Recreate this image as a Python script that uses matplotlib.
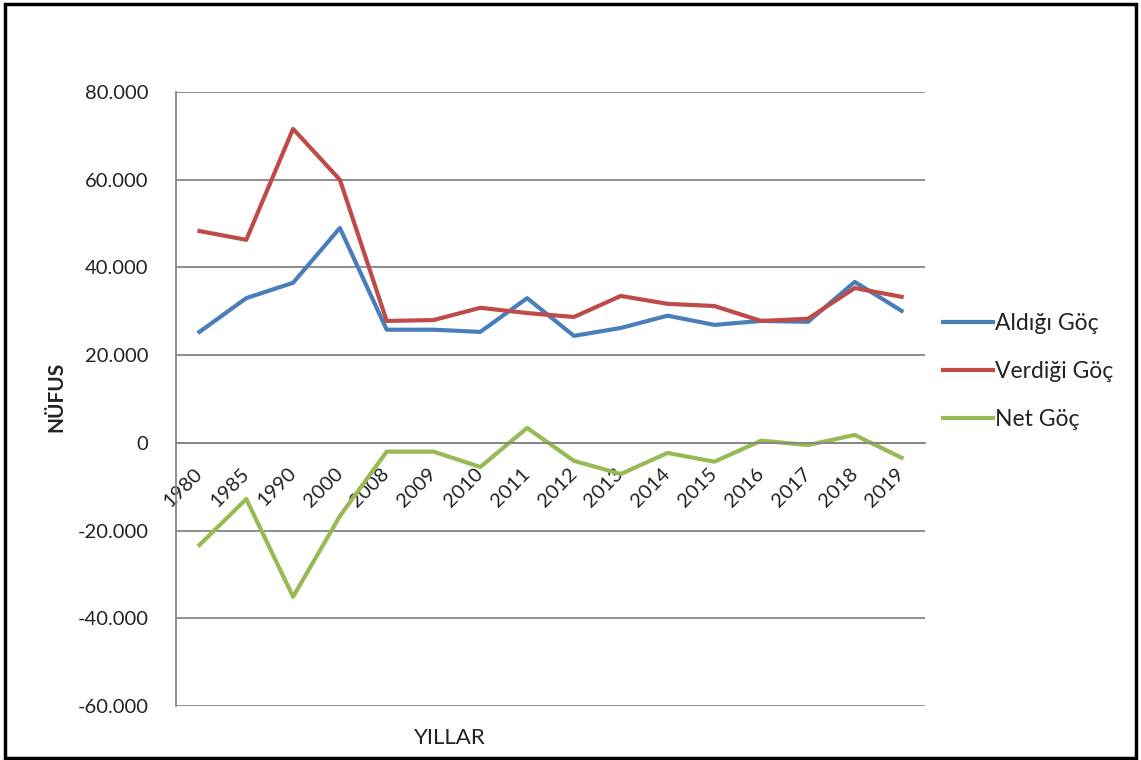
import matplotlib.pyplot as plt
from matplotlib.patches import Rectangle
from matplotlib.ticker import FuncFormatter

plt.rcParams['font.family'] = ['Lato', 'DejaVu Sans']

years = ['1980', '1985', '1990', '2000', '2008', '2009', '2010', '2011',
         '2012', '2013', '2014', '2015', '2016', '2017', '2018', '2019']
aldigi = [25300, 33000, 36500, 49000, 25800, 25800, 25300, 33000,
          24400, 26200, 29000, 26900, 27800, 27600, 36700, 30100]
verdigi = [48300, 46300, 71600, 60000, 27800, 28000, 30800, 29600,
           28700, 33500, 31700, 31200, 27800, 28300, 35300, 33300]
net = [-23300, -12800, -35100, -16700, -2000, -2000, -5500, 3400,
       -4100, -7100, -2300, -4300, 500, -500, 1800, -3400]
y_ticks = [-60000, -40000, -20000, 0, 20000, 40000, 60000, 80000]

fig = plt.figure(figsize=(11.41, 7.6), dpi=100)
ax = fig.add_axes([0.1543, 0.0711, 0.6564, 0.8078])

x = range(len(years))
ax.plot(x, aldigi, color='#4A7EBB', lw=3, label='Aldığı Göç')
ax.plot(x, verdigi, color='#BE4B48', lw=3, label='Verdiği Göç')
ax.plot(x, net, color='#98B954', lw=3, label='Net Göç')

ax.set_xlim(-0.5, len(years) - 0.5)
ax.set_ylim(-60000, 80000)
ax.set_yticks(y_ticks)
ax.yaxis.set_major_formatter(FuncFormatter(
    lambda v, p: '0' if v == 0 else f'{v:,.0f}'.replace(',', '.')))
ax.grid(axis='y', color='#868686', lw=1.3)
ax.set_axisbelow(True)

# category axis crosses at zero, like in Excel
ax.spines['bottom'].set_position(('data', 0))
ax.spines['bottom'].set_color('#868686')
ax.spines['bottom'].set_linewidth(1.3)
ax.spines['left'].set_color('#868686')
ax.spines['left'].set_linewidth(1.3)
ax.spines['top'].set_visible(False)
ax.spines['right'].set_visible(False)

ax.set_xticks(list(x))
ax.set_xticklabels(years, rotation=45, ha='right', va='center',
                   rotation_mode='anchor', fontsize=14.5, color='#222222')
ax.tick_params(axis='x', length=0, pad=20)
ax.tick_params(axis='y', length=0, pad=20, labelsize=14.5, labelcolor='#222222')

fig.text(0.394, 0.029, 'YILLAR', ha='center', va='center', fontsize=16,
         color='#222222')
fig.text(0.049, 0.478, 'NÜFUS', ha='center', va='center', fontsize=15,
         fontweight='bold', rotation=90, color='#222222')

ax.legend(loc='center left', bbox_to_anchor=(0.996, 0.545), frameon=False,
          fontsize=16.5, handlelength=2.2, handletextpad=0.1, labelspacing=1.17,
          labelcolor='#222222')

fig.patches.append(Rectangle((0.004, 0.003), 0.992, 0.992, transform=fig.transFigure,
                             fill=False, edgecolor='black', lw=2.5))

fig.savefig('out.png', dpi=100)
